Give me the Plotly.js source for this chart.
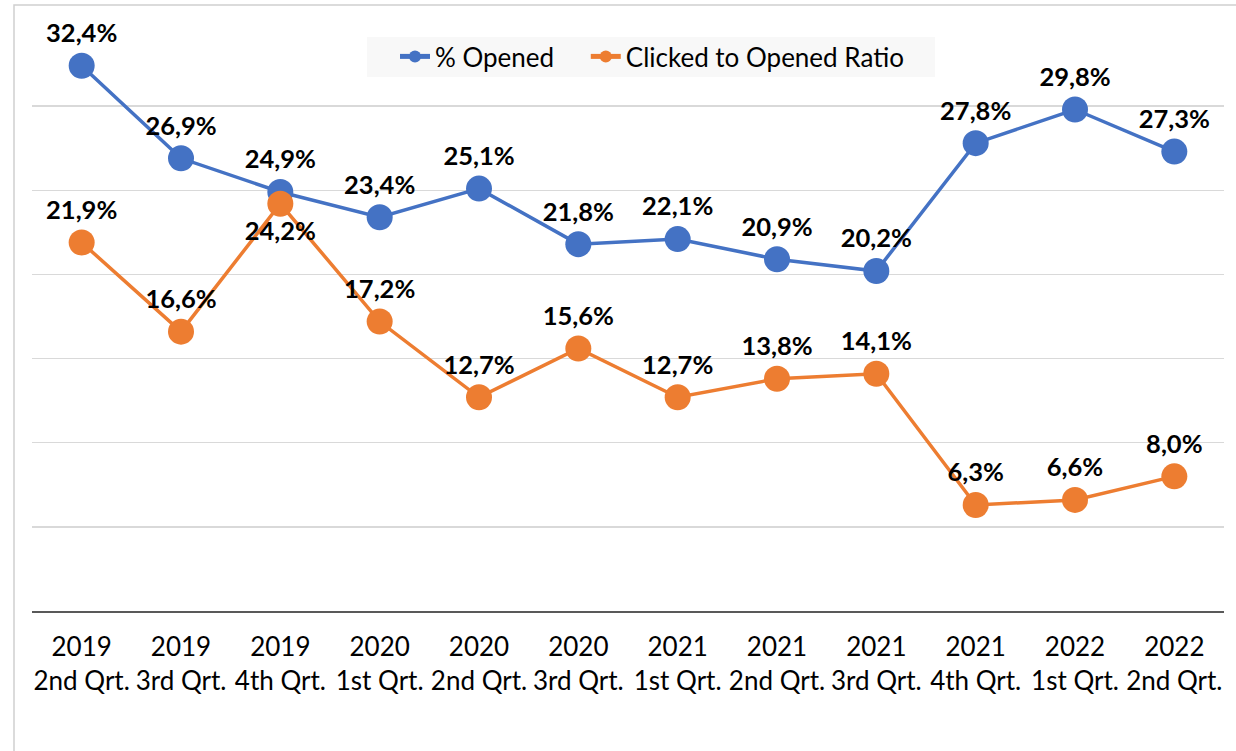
<!DOCTYPE html>
<html>
<head>
<meta charset="utf-8">
<script src="https://cdn.plot.ly/plotly-3.0.1.min.js"></script>
<style>
  html, body { margin: 0; padding: 0; background: #fff; }
  #chart { width: 1236px; height: 751px; }
</style>
</head>
<body>
<div id="chart"></div>
<script>
const categories = [
  "2019<br>2nd Qrt.", "2019<br>3rd Qrt.", "2019<br>4th Qrt.",
  "2020<br>1st Qrt.", "2020<br>2nd Qrt.", "2020<br>3rd Qrt.",
  "2021<br>1st Qrt.", "2021<br>2nd Qrt.", "2021<br>3rd Qrt.",
  "2021<br>4th Qrt.", "2022<br>1st Qrt.", "2022<br>2nd Qrt."
];
const openedPct = [32.4, 26.9, 24.9, 23.4, 25.1, 21.8, 22.1, 20.9, 20.2, 27.8, 29.8, 27.3];
const clickedToOpenedPct = [21.9, 16.6, 24.2, 17.2, 12.7, 15.6, 12.7, 13.8, 14.1, 6.3, 6.6, 8.0];
const seriesNames = ["% Opened", "Clicked to Opened Ratio"];

const FONT = "Lato, 'Open Sans', sans-serif";
const blue = "#4472C4", orange = "#ED7D31";

const W = 1236, H = 751;
const M = { l: 32, r: 12, t: 22, b: 140 };
const pw = W - M.l - M.r, ph = H - M.t - M.b;
const px2x = p => (p - M.l) / pw;
const py2y = p => (H - M.b - p) / ph;

const orangePos = clickedToOpenedPct.map((v, i) => i === 2 ? "bottom center" : "top center");
const legendPad = "\u00a0\u00a0\u00a0\u00a0";

const common = {
  type: "scatter",
  mode: "lines+markers+text",
  x: categories,
  texttemplate: "%{y:.1f}%",
  textfont: { family: FONT, size: 25.5, color: "#000", weight: "bold" },
  cliponaxis: false,
  hoverinfo: "skip"
};

const traces = [
  Object.assign({}, common, {
    name: seriesNames[0] + legendPad,
    y: openedPct,
    line: { color: blue, width: 3.5 },
    marker: { color: blue, size: 26 },
    textposition: "top center"
  }),
  Object.assign({}, common, {
    name: seriesNames[1],
    y: clickedToOpenedPct,
    line: { color: orange, width: 3.5 },
    marker: { color: orange, size: 26 },
    textposition: orangePos
  })
];

const layout = {
  width: W, height: H,
  margin: M,
  paper_bgcolor: "#fff",
  plot_bgcolor: "#fff",
  separators: ",.",
  font: { family: FONT, size: 26, color: "#000" },
  showlegend: true,
  legend: {
    orientation: "h",
    x: px2x(395), xanchor: "left",
    y: py2y(33), yanchor: "top",
    bgcolor: "rgba(0,0,0,0)",
    font: { family: FONT, size: 26, color: "#000" },
    itemsizing: "constant"
  },
  xaxis: {
    type: "category",
    range: [-0.5, 11.5],
    showgrid: false,
    showline: true, linecolor: "#595959", linewidth: 2,
    ticks: "",
    ticklabelstandoff: 12,
    tickfont: { family: FONT, size: 26, color: "#000" },
    fixedrange: true
  },
  yaxis: {
    range: [0, 35],
    dtick: 5,
    showticklabels: false,
    showgrid: true, gridcolor: "#d9d9d9", gridwidth: 1.5,
    zeroline: false,
    showline: false,
    fixedrange: true
  },
  shapes: [{
    type: "rect", xref: "paper", yref: "paper",
    x0: px2x(14), x1: px2x(1245), y0: py2y(760), y1: py2y(5),
    line: { color: "#d0d0d0", width: 1.5 }, fillcolor: "rgba(0,0,0,0)",
    layer: "below"
  }, {
    type: "rect", xref: "paper", yref: "paper",
    x0: px2x(367), x1: px2x(935), y0: py2y(77), y1: py2y(37),
    line: { width: 0 }, fillcolor: "#f8f8f8",
    layer: "above"
  }]
};

Plotly.newPlot("chart", traces, layout, { displayModeBar: false, staticPlot: true });
</script>
</body>
</html>
